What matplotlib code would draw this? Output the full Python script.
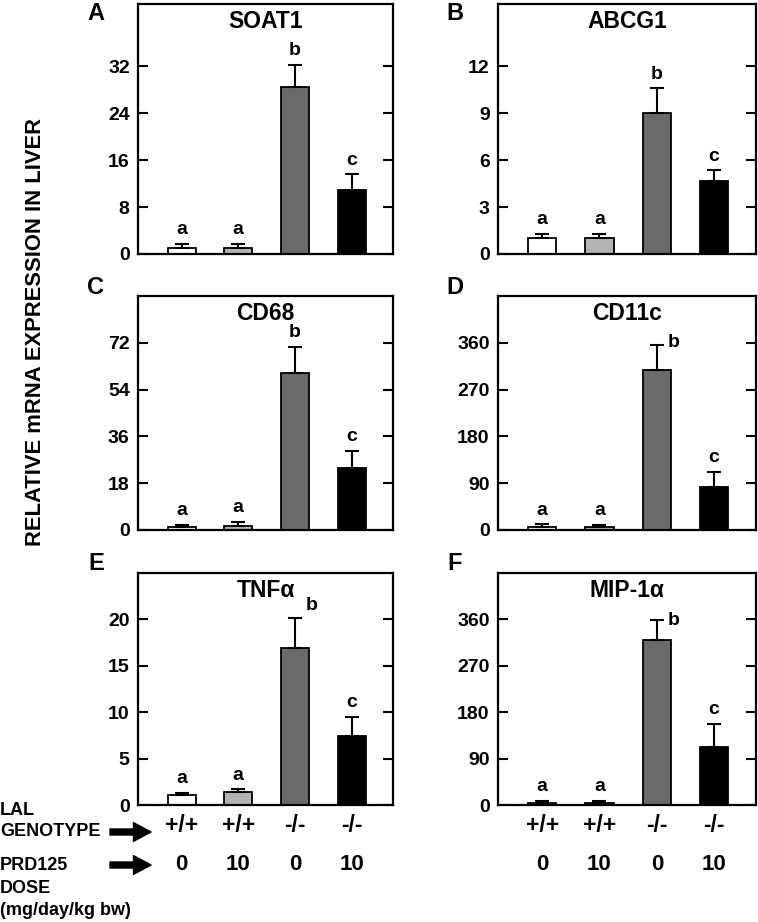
import matplotlib
matplotlib.use("Agg")
import matplotlib.pyplot as plt
import matplotlib.transforms as mtransforms
from matplotlib.patches import FancyArrowPatch

plt.rcParams["font.family"] = ["Liberation Sans", "DejaVu Sans"]
plt.rcParams["font.weight"] = "bold"

# groups: LAL genotype and PRD125 dose
genotypes = ["+/+", "+/+", "-/-", "-/-"]
doses = ["0", "10", "0", "10"]
sig_letters = ["a", "a", "b", "c"]
bar_colors = ["white", "#b4b4b4", "#6a6a6a", "black"]

genes = ["SOAT1", "ABCG1", "CD68", "CD11c", "TNFα", "MIP-1α"]
panel_tags = ["A", "B", "C", "D", "E", "F"]

soat1_mean = [1.0, 1.0, 28.5, 10.9]
soat1_sem = [0.7, 0.7, 3.8, 2.7]
abcg1_mean = [1.0, 1.0, 9.0, 4.7]
abcg1_sem = [0.28, 0.28, 1.6, 0.65]
cd68_mean = [1.2, 1.5, 60.4, 23.8]
cd68_sem = [0.9, 1.5, 9.9, 6.7]
cd11c_mean = [6.0, 5.5, 308.0, 82.0]
cd11c_sem = [5.0, 4.5, 47.0, 30.0]
tnfa_mean = [1.07, 1.43, 16.9, 7.4]
tnfa_sem = [0.26, 0.25, 3.3, 2.1]
mip1a_mean = [3.5, 3.5, 320.0, 113.0]
mip1a_sem = [5.0, 5.0, 38.0, 44.0]

means = [soat1_mean, abcg1_mean, cd68_mean, cd11c_mean, tnfa_mean, mip1a_mean]
sems = [soat1_sem, abcg1_sem, cd68_sem, cd11c_sem, tnfa_sem, mip1a_sem]
yticks = [[0, 8, 16, 24, 32], [0, 3, 6, 9, 12], [0, 18, 36, 54, 72],
          [0, 90, 180, 270, 360], [0, 5, 10, 15, 20], [0, 90, 180, 270, 360]]
ytops = [32 * 4 / 3, 16, 90, 450, 25, 450]

W, H = 758, 922
fig = plt.figure(figsize=(W / 100, H / 100), dpi=100)


def px_box(left, top, right, bottom):
    return [left / W, 1 - bottom / H, (right - left) / W, (bottom - top) / H]


def fx(x):
    return x / W


def fy(y):
    return 1 - y / H


col_x = [(138, 393), (498, 756)]
row_y = [(4, 254), (296, 530), (573, 805)]
tag_xy = [(96, 14), (455, 14), (96, 288), (455, 288), (96, 563), (455, 563)]
# offset (points) of the "b" label relative to its error bar top
b_offsets = [None, None, None, (12, 2), (12, 9), (12, 0)]

axes = []
for k in range(6):
    r, c = divmod(k, 2)
    ax = fig.add_axes(px_box(col_x[c][0], row_y[r][0], col_x[c][1], row_y[r][1]))
    axes.append(ax)
    x = range(4)
    ax.bar(x, means[k], width=0.49, color=bar_colors, edgecolor="black",
           linewidth=1.3, zorder=2)
    ax.errorbar(x, means[k], yerr=[[0] * 4, sems[k]], fmt="none", ecolor="black",
                elinewidth=1.5, capsize=5, capthick=1.5, zorder=3)
    ax.set_xlim(-0.77, 3.73)
    ax.set_ylim(0, ytops[k])
    ax.set_xticks([])
    ax.set_yticks(yticks[k])
    ax.tick_params(axis="y", direction="in", length=7, width=1.5, right=True,
                   labelsize=14, pad=6)
    for lab in ax.get_yticklabels():
        lab.set_fontweight("bold")
    for sp in ax.spines.values():
        sp.set_linewidth(1.6)

    for i in x:
        top = means[k][i] + sems[k][i]
        if sig_letters[i] == "b" and b_offsets[k] is not None:
            ax.annotate("b", (i, top), xytext=b_offsets[k], textcoords="offset points",
                        ha="center", va="center", fontsize=14, fontweight="bold")
        else:
            ax.annotate(sig_letters[i], (i, top), xytext=(0, 7),
                        textcoords="offset points", ha="center", va="baseline",
                        fontsize=14, fontweight="bold")

    ax.annotate(genes[k], (0.5, 1), xycoords="axes fraction", xytext=(0, -12.5),
                textcoords="offset points", ha="center", va="center",
                fontsize=16.5, fontweight="bold")
    fig.text(fx(tag_xy[k][0]), fy(tag_xy[k][1]), panel_tags[k], ha="center",
             va="center", fontsize=17, fontweight="bold")

# group labels under the bottom panels
for ax in axes[4:]:
    tr = mtransforms.blended_transform_factory(ax.transData, ax.transAxes)
    for i in range(4):
        ax.text(i, -0.09, genotypes[i], transform=tr, ha="center", va="center",
                fontsize=16.5, fontweight="bold")
        ax.text(i, -0.255, doses[i], transform=tr, ha="center", va="center",
                fontsize=16, fontweight="bold")

row_labels = [("LAL", 810), ("GENOTYPE", 832), ("PRD125", 865), ("DOSE", 888),
              ("(mg/day/kg bw)", 910)]
for txt, yy in row_labels:
    fig.text(fx(0), fy(yy), txt, ha="left", va="center", fontsize=13,
             fontweight="bold")

for yy in (832, 865):
    fig.add_artist(FancyArrowPatch(
        (fx(110), fy(yy)), (fx(151), fy(yy)), transform=fig.transFigure,
        arrowstyle="simple,head_width=0.75,head_length=0.7,tail_width=0.24",
        mutation_scale=18, color="black", shrinkA=0, shrinkB=0))

fig.text(fx(36), fy(332), "RELATIVE mRNA EXPRESSION IN LIVER", rotation=90,
         ha="center", va="center", fontsize=15.8, fontweight="bold")

fig.savefig("out.png", dpi=100)
